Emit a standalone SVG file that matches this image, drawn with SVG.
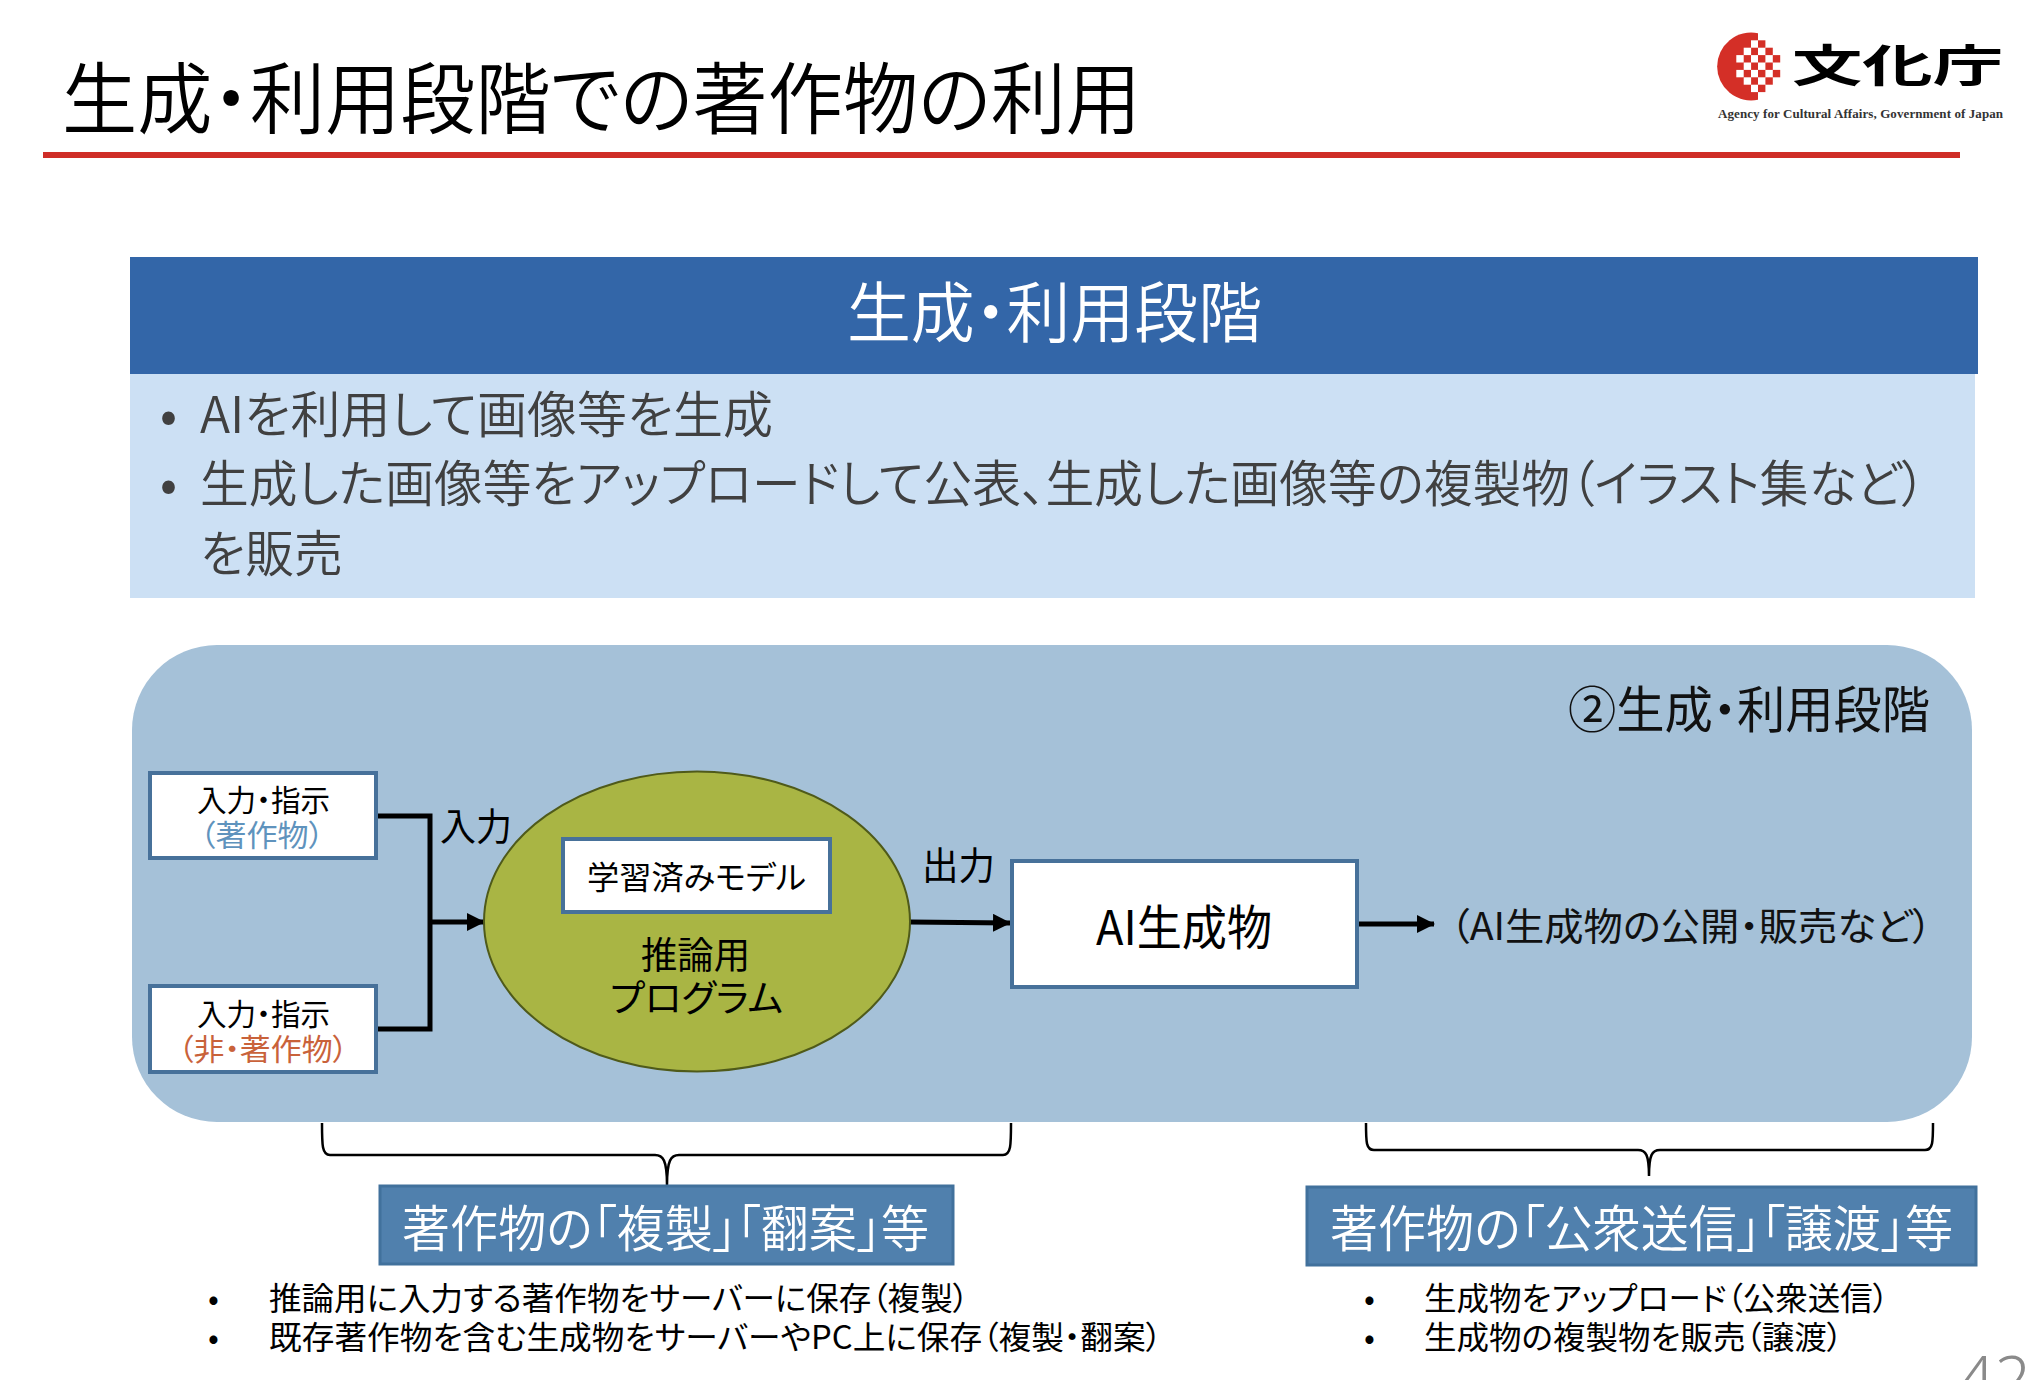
<svg xmlns="http://www.w3.org/2000/svg" width="2030" height="1380" viewBox="0 0 2030 1380">
<style>
text{font-family:"Noto Sans CJK JP","Noto Sans",sans-serif;font-feature-settings:"palt";fill:#000}
.w{fill:#fff}.g{fill:#404040}.b{fill:#5f93bd}.o{fill:#c9623a}
.lt{font-weight:350}
.box{fill:#fff;stroke:#47719a;stroke-width:4}
.blue{fill:#5080ad;stroke:#41719c;stroke-width:3}
.c{fill:none;stroke:#000;stroke-width:5}
.br{fill:none;stroke:#000;stroke-width:2.5}
</style>
<defs><marker id="a" markerUnits="userSpaceOnUse" markerWidth="18" markerHeight="18" refX="17" refY="9" orient="auto"><path d="M0 0L18 9L0 18Z"/></marker></defs>
<rect width="2030" height="1380" fill="#fff"/>
<text class="lt" x="62" y="128" font-size="78" textLength="1079" lengthAdjust="spacingAndGlyphs">生成・利用段階での著作物の利用</text>
<rect x="43" y="152" width="1917" height="6" fill="#cf2d27"/>
<g id="logo">
<path d="M1758 33.200A34 34 0 1 0 1758 99.800Z" fill="#d42f27"/>
<g fill="#fff"><rect x="1751" y="40.300" width="7.400" height="7.400"/><rect x="1743.700" y="47.700" width="7.400" height="7.400"/><rect x="1736.300" y="55.100" width="7.400" height="7.400"/><rect x="1751" y="55.100" width="7.400" height="7.400"/><rect x="1743.700" y="62.500" width="7.400" height="7.400"/><rect x="1736.300" y="69.900" width="7.400" height="7.400"/><rect x="1751" y="69.900" width="7.400" height="7.400"/><rect x="1743.700" y="77.300" width="7.400" height="7.400"/><rect x="1751" y="84.700" width="7.400" height="7.400"/></g>
<g fill="#d42f27"><rect x="1758" y="40.300" width="7.400" height="7.400"/><rect x="1765.400" y="47.700" width="7.400" height="7.400"/><rect x="1758" y="55.100" width="7.400" height="7.400"/><rect x="1772.800" y="55.100" width="7.400" height="7.400"/><rect x="1765.400" y="62.500" width="7.400" height="7.400"/><rect x="1758" y="69.900" width="7.400" height="7.400"/><rect x="1772.800" y="69.900" width="7.400" height="7.400"/><rect x="1765.400" y="77.300" width="7.400" height="7.400"/><rect x="1758" y="84.700" width="7.400" height="7.400"/></g>
<text x="1792" y="82" font-size="44" font-weight="700" textLength="211" lengthAdjust="spacingAndGlyphs">文化庁</text>
<text x="1718" y="118" font-size="13" font-weight="700" textLength="285" lengthAdjust="spacing" style="font-family:'Liberation Serif',serif;fill:#333">Agency for Cultural Affairs, Government of Japan</text>
</g>
<g id="header">
<rect x="130" y="257" width="1848" height="117" fill="#3366a8"/>
<text class="w lt" x="847" y="337" font-size="66" textLength="415" lengthAdjust="spacingAndGlyphs">生成・利用段階</text>
</g>
<g id="summary">
<rect x="130" y="374" width="1845" height="224" fill="#cce0f4"/>
<text class="g" x="160" y="433" font-size="50">•</text>
<text class="g lt" x="200" y="433" font-size="50" textLength="573" lengthAdjust="spacingAndGlyphs">AIを利用して画像等を生成</text>
<text class="g" x="160" y="502" font-size="50">•</text>
<text class="g lt" x="200" y="502" font-size="50" textLength="1726" lengthAdjust="spacingAndGlyphs">生成した画像等をアップロードして公表、生成した画像等の複製物（イラスト集など）</text>
<text class="g lt" x="200" y="572" font-size="50" textLength="143" lengthAdjust="spacingAndGlyphs">を販売</text>
</g>
<g id="panel">
<rect x="132" y="645" width="1840" height="477" rx="85" fill="#a5c1d8"/>
<text x="1568" y="728" font-size="50" textLength="362" lengthAdjust="spacingAndGlyphs" style="fill:#111">②生成・利用段階</text>
</g>
<g id="connectors">
<path class="c" d="M377 816H430V1029H377"/>
<path class="c" d="M430 922H484" marker-end="url(#a)"/>
<path class="c" d="M910 922L1010 923" marker-end="url(#a)"/>
<path class="c" d="M1358 924H1434" marker-end="url(#a)"/>
<path class="br" d="M322 1123C322 1145 322 1155 330 1155H655C663 1155 667 1160 667 1185C667 1160 671 1155 679 1155H1003C1011 1155 1011 1145 1011 1123"/>
<path class="br" d="M1366 1123C1366 1142 1366 1150 1374 1150H1638C1646 1150 1649 1155 1649 1176C1649 1155 1652 1150 1660 1150H1925C1933 1150 1933 1142 1933 1123"/>
</g>
<g id="input1"><rect class="box" x="150" y="773" width="226" height="85"/>
<text x="197" y="811" font-size="30" textLength="133" lengthAdjust="spacingAndGlyphs">入力・指示</text>
<text class="b" x="200" y="846" font-size="30" textLength="124" lengthAdjust="spacingAndGlyphs">（著作物）</text></g>
<g id="input2"><rect class="box" x="150" y="986" width="226" height="86"/>
<text x="197" y="1025" font-size="30" textLength="133" lengthAdjust="spacingAndGlyphs">入力・指示</text>
<text class="o" x="178" y="1060" font-size="30" textLength="170" lengthAdjust="spacingAndGlyphs">（非・著作物）</text></g>
<text x="440" y="840" font-size="38" textLength="72" lengthAdjust="spacingAndGlyphs">入力</text>
<g id="program"><ellipse cx="697" cy="921.500" rx="213" ry="150" fill="#a9b544" stroke="#4f5a1a" stroke-width="2"/>
<text x="641" y="969" font-size="37" textLength="109" lengthAdjust="spacingAndGlyphs">推論用</text>
<text x="610" y="1012" font-size="37" textLength="173" lengthAdjust="spacingAndGlyphs">プログラム</text></g>
<g id="model"><rect class="box" x="563" y="839" width="267" height="73"/>
<text x="587" y="889" font-size="32" textLength="219" lengthAdjust="spacingAndGlyphs">学習済みモデル</text></g>
<text x="922" y="879" font-size="38" textLength="73" lengthAdjust="spacingAndGlyphs">出力</text>
<g id="output"><rect class="box" x="1012" y="861" width="345" height="126"/>
<text x="1096" y="945" font-size="48" textLength="176" lengthAdjust="spacingAndGlyphs">AI生成物</text></g>
<text x="1450" y="940" font-size="38" textLength="482" lengthAdjust="spacingAndGlyphs" style="fill:#111">（AI生成物の公開・販売など）</text>
<g id="label-left"><rect class="blue" x="380" y="1186" width="573" height="78"/>
<text class="w lt" x="402" y="1247" font-size="50" textLength="527" lengthAdjust="spacingAndGlyphs">著作物の「複製」「翻案」等</text></g>
<g id="label-right"><rect class="blue" x="1307" y="1187" width="669" height="78"/>
<text class="w lt" x="1330" y="1247" font-size="50" textLength="623" lengthAdjust="spacingAndGlyphs">著作物の「公衆送信」「譲渡」等</text></g>
<g id="notes-left">
<text x="208" y="1310" font-size="32">•</text><text x="269" y="1310" font-size="32" textLength="700" lengthAdjust="spacingAndGlyphs">推論用に入力する著作物をサーバーに保存（複製）</text>
<text x="208" y="1349" font-size="32">•</text><text x="269" y="1349" font-size="32" textLength="893" lengthAdjust="spacingAndGlyphs">既存著作物を含む生成物をサーバーやPC上に保存（複製・翻案）</text>
</g>
<g id="notes-right">
<text x="1364" y="1310" font-size="32">•</text><text x="1424" y="1310" font-size="32" textLength="465" lengthAdjust="spacingAndGlyphs">生成物をアップロード（公衆送信）</text>
<text x="1364" y="1349" font-size="32">•</text><text x="1424" y="1349" font-size="32" textLength="419" lengthAdjust="spacingAndGlyphs">生成物の複製物を販売（譲渡）</text>
</g>
<text x="1958" y="1402" font-size="64" font-weight="300" style="font-family:'Noto Sans',sans-serif;fill:#8a8a8a">42</text>
</svg>
